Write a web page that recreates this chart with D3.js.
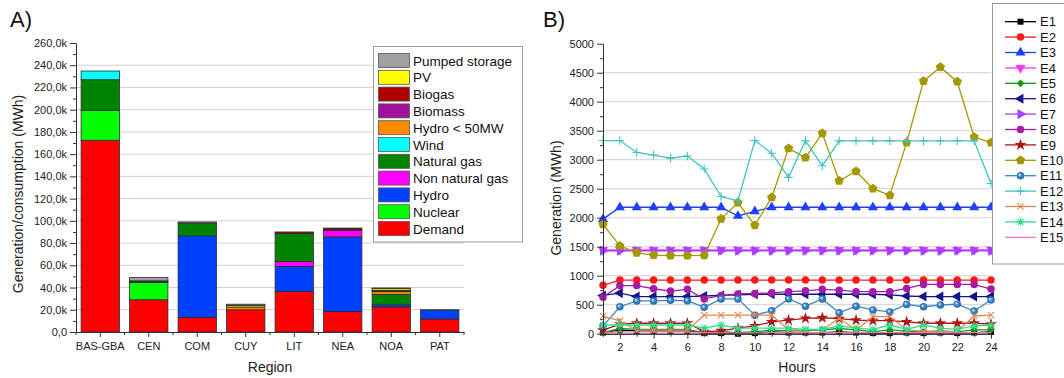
<!DOCTYPE html>
<html>
<head>
<meta charset="utf-8">
<script src="https://cdn.jsdelivr.net/npm/d3@7"></script>
<style>
  body { margin: 0; background: #fff; }
  svg { display: block; font-family: "Liberation Sans", Arial, sans-serif; }
</style>
</head>
<body>
<svg id="chart" width="1064" height="378"></svg>
<script>
// ---------- Panel A: regional generation / consumption (MWh) ----------
const regions = ["BAS-GBA", "CEN", "COM", "CUY", "LIT", "NEA", "NOA", "PAT"];
const sources = ["Demand", "Nuclear", "Hydro", "Non natural gas", "Natural gas", "Wind",
                 "Hydro < 50MW", "Biomass", "Biogas", "PV", "Pumped storage"];
const sourceColors = ["#ff0000", "#00ff00", "#0040ff", "#ff00ff", "#008400", "#00ffff",
                      "#ff8c00", "#a0109a", "#b00000", "#ffff00", "#a0a0a0"];

const demand        = [172500, 29000, 13000, 20000, 36500, 18500, 22500, 11700];
const nuclear       = [ 27000, 15500,     0,     0,     0,     0,     0,     0];
const hydro         = [     0,  1000, 73500,     0, 22500, 67000,  2000,  8000];
const nonNaturalGas = [     0,     0,     0,     0,  4500,  6000,     0,     0];
const naturalGas    = [ 27500,     0, 11500,     0, 25000,     0,  9300,     0];
const wind          = [  7800,     0,     0,     0,     0,     0,     0,   300];
const hydroSmall    = [     0,     0,     0,  2500,     0,     0,  2500,     0];
const biomass       = [     0,   500,     0,     0,     0,  1000,   800,     0];
const biogas        = [     0,     0,     0,     0,  1500,  1000,   500,     0];
const pv            = [     0,     0,     0,  1500,     0,     0,  1500,     0];
const pumpedStorage = [     0,  3000,  1000,  1000,     0,     0,   500,     0];
const sourceValues  = [demand, nuclear, hydro, nonNaturalGas, naturalGas, wind,
                       hydroSmall, biomass, biogas, pv, pumpedStorage];

const yTicksA = [0, 20000, 40000, 60000, 80000, 100000, 120000, 140000, 160000,
                 180000, 200000, 220000, 240000, 260000];

// ---------- Panel B: hourly generation per unit (MWh) ----------
const hours = [1, 2, 3, 4, 5, 6, 7, 8, 9, 10, 11, 12, 13, 14, 15, 16, 17, 18, 19, 20, 21, 22, 23, 24];
const e1  = [20, 60, 50, 50, 50, 50, 10, 10, 0, 10, 30, 20, 20, 20, 30, 20, 10, 10, 20, 10, 20, 10, 20, 30];
const e2  = [835, 925, 925, 925, 925, 925, 925, 925, 925, 925, 925, 925, 925, 925, 925, 925, 925, 925, 925, 925, 925, 925, 925, 925];
const e3  = [1975, 2180, 2180, 2180, 2180, 2180, 2180, 2180, 2030, 2110, 2180, 2180, 2180, 2180, 2180, 2180, 2180, 2180, 2180, 2180, 2180, 2180, 2180, 2180];
const e4  = [1445, 1445, 1445, 1445, 1445, 1445, 1445, 1445, 1445, 1445, 1445, 1445, 1445, 1445, 1445, 1445, 1445, 1445, 1445, 1445, 1445, 1445, 1445, 1445];
const e5  = [20, 90, 75, 75, 75, 75, 20, 35, 20, 35, 60, 50, 50, 65, 90, 65, 35, 65, 45, 35, 50, 30, 65, 65];
const e6  = [660, 700, 640, 640, 640, 640, 650, 660, 670, 680, 680, 680, 680, 680, 680, 680, 680, 670, 650, 640, 640, 640, 640, 640];
const e7  = [1430, 1430, 1430, 1430, 1430, 1430, 1430, 1430, 1430, 1430, 1430, 1430, 1430, 1430, 1430, 1430, 1430, 1430, 1430, 1430, 1430, 1430, 1430, 1430];
const e8  = [630, 830, 830, 775, 735, 765, 600, 660, 685, 695, 705, 725, 740, 765, 750, 725, 725, 725, 780, 850, 850, 850, 850, 770];
const e9  = [60, 165, 180, 180, 180, 180, 35, 50, 95, 135, 205, 235, 265, 275, 260, 235, 225, 225, 205, 180, 180, 180, 180, 165];
const e10 = [1885, 1515, 1395, 1355, 1345, 1345, 1350, 1980, 2260, 1870, 2350, 3195, 3035, 3455, 2635, 2800, 2500, 2385, 3295, 4355, 4595, 4345, 3390, 3295];
const e11 = [135, 465, 565, 565, 575, 570, 455, 600, 600, 320, 395, 600, 475, 600, 360, 475, 410, 375, 505, 465, 495, 510, 390, 580];
const e12 = [3330, 3330, 3125, 3080, 3025, 3065, 2840, 2365, 2290, 3330, 3110, 2695, 3325, 2895, 3325, 3325, 3325, 3325, 3325, 3325, 3325, 3325, 3325, 2590];
const e13 = [305, 220, 60, 60, 60, 60, 320, 320, 320, 320, 320, 65, 65, 65, 265, 65, 295, 295, 65, 40, 40, 40, 305, 320];
const e14 = [150, 150, 150, 150, 150, 150, 95, 150, 95, 95, 95, 95, 75, 75, 135, 95, 75, 150, 75, 150, 95, 75, 135, 150];
const e15 = [20, 30, 30, 30, 30, 30, 20, 10, 10, 10, 20, 20, 20, 20, 20, 20, 20, 20, 20, 20, 20, 20, 20, 20];
const seriesValues = [e1, e2, e3, e4, e5, e6, e7, e8, e9, e10, e11, e12, e13, e14, e15];
const seriesNames  = ["E1", "E2", "E3", "E4", "E5", "E6", "E7", "E8", "E9", "E10", "E11", "E12", "E13", "E14", "E15"];
const seriesColors = ["#000000", "#ff1a1a", "#1f3fff", "#ff33ff", "#109a10", "#14148c", "#a440ff",
                      "#a61aa6", "#b01414", "#a39800", "#3a86c6", "#3fc4c4", "#e2874e", "#2ee08e", "#ff6ec4"];
const seriesMarkers = ["square", "circle", "triUp", "triDown", "diamond", "triLeft", "triRight",
                       "circle", "star", "pentagon", "sphere", "plus", "cross", "asterisk", "none"];
const yTicksB = [0, 500, 1000, 1500, 2000, 2500, 3000, 3500, 4000, 4500, 5000];

// ---------- helpers ----------
const svg = d3.select("#chart");
const ink = "#333";
const textInk = "#222";

function styleAxis(g) {
  g.selectAll("path, line").attr("stroke", ink).attr("stroke-width", 1);
  g.selectAll("text").attr("fill", textInk).attr("font-size", "11px")
    .attr("font-family", '"Liberation Sans", Arial, sans-serif');
}

const fmtK = v => v === 0 ? "0,0" : (v / 1000).toFixed(1).replace(".", ",") + "k";

// ---------- Panel A ----------
const xA = d3.scaleBand().domain(regions).range([76, 464]).paddingInner(0.21).paddingOuter(0.105);
const yA = d3.scaleLinear().domain([0, 260000]).range([332, 43]);
const gA = svg.append("g");

// horizontal gridlines
gA.append("g").selectAll("line")
  .data(yTicksA.filter(v => v > 0 && v < 260000))
  .join("line")
  .attr("x1", 76).attr("x2", 464)
  .attr("y1", d => yA(d)).attr("y2", d => yA(d))
  .attr("stroke", "#d0d0d0").attr("stroke-width", 1);

// stacked bars
const rows = regions.map((r, i) => {
  const o = { region: r };
  sources.forEach((s, k) => { o[s] = sourceValues[k][i]; });
  return o;
});
const stacked = d3.stack().keys(sources)(rows);
gA.append("g").selectAll("g")
  .data(stacked)
  .join("g")
  .attr("fill", (d, k) => sourceColors[k])
  .selectAll("rect")
  .data(d => d.filter(p => p[1] - p[0] > 0))
  .join("rect")
  .attr("x", p => xA(p.data.region))
  .attr("width", xA.bandwidth())
  .attr("y", p => yA(p[1]))
  .attr("height", p => yA(p[0]) - yA(p[1]))
  .attr("stroke", "#2b2b2b").attr("stroke-width", 0.8);

// axes
gA.append("g").attr("transform", "translate(76,0)")
  .call(d3.axisLeft(yA).tickValues(yTicksA.map(v => v + 10000).filter(v => v < 260000))
    .tickFormat("").tickSize(3).tickSizeOuter(0))
  .call(styleAxis);
gA.append("g").attr("transform", "translate(76,0)")
  .call(d3.axisLeft(yA).tickValues(yTicksA).tickFormat(fmtK).tickSize(6).tickPadding(3).tickSizeOuter(0))
  .call(styleAxis);

const boundaries = regions.map(r => xA(r) + xA.bandwidth() / 2 - xA.step() / 2)
  .concat([xA(regions[regions.length - 1]) + xA.bandwidth() / 2 + xA.step() / 2]);
gA.append("g").selectAll("line").data(boundaries).join("line")
  .attr("x1", d => d).attr("x2", d => d).attr("y1", 332).attr("y2", 335)
  .attr("stroke", ink);
gA.append("g").attr("transform", "translate(0,332)")
  .call(d3.axisBottom(xA).tickSize(5).tickPadding(5).tickSizeOuter(0))
  .call(styleAxis);

// titles
svg.append("text").attr("x", 10).attr("y", 27).attr("font-size", "22px").attr("fill", "#111").text("A)");
svg.append("text").attr("transform", "translate(23,194) rotate(-90)").attr("text-anchor", "middle")
  .attr("font-size", "14px").attr("fill", textInk).text("Generation/consumption (MWh)");
svg.append("text").attr("x", 270).attr("y", 372).attr("text-anchor", "middle")
  .attr("font-size", "14px").attr("fill", textInk).text("Region");

// legend
const legA = svg.append("g");
legA.append("rect").attr("x", 373.5).attr("y", 46.5).attr("width", 149).attr("height", 195.5)
  .attr("fill", "#fff").attr("stroke", "#9a9a9a");
const legendOrder = sources.slice().reverse();
legendOrder.forEach((s, i) => {
  const y = 53.5 + i * 16.8;
  legA.append("rect").attr("x", 378.5).attr("y", y).attr("width", 31).attr("height", 14)
    .attr("fill", sourceColors[sources.indexOf(s)]).attr("stroke", "#555").attr("stroke-width", 0.8);
  legA.append("text").attr("x", 413).attr("y", y + 12).attr("font-size", "13.5px")
    .attr("fill", "#111").text(s);
});

// ---------- Panel B ----------
const xB = d3.scaleLinear().domain([1, 24]).range([603, 991]);
const yB = d3.scaleLinear().domain([0, 5000]).range([333.7, 43.7]);
const gB = svg.append("g");

gB.append("g").selectAll("line")
  .data(yTicksB.filter(v => v > 0 && v < 5000))
  .join("line")
  .attr("x1", 603).attr("x2", 991)
  .attr("y1", d => yB(d)).attr("y2", d => yB(d))
  .attr("stroke", "#d0d0d0").attr("stroke-width", 1);

// marker shapes
const defs = svg.append("defs");
const pentagon = {
  draw(ctx, size) {
    const r = Math.sqrt(size) * 0.66;
    for (let k = 0; k < 5; k++) {
      const a = -Math.PI / 2 + k * 2 * Math.PI / 5;
      if (k === 0) ctx.moveTo(r * Math.cos(a), r * Math.sin(a));
      else ctx.lineTo(r * Math.cos(a), r * Math.sin(a));
    }
    ctx.closePath();
  }
};
const plusT = { draw(ctx, size) { const r = Math.sqrt(size) * 0.6; ctx.moveTo(-r, 0); ctx.lineTo(r, 0); ctx.moveTo(0, -r); ctx.lineTo(0, r); } };
const crossT = { draw(ctx, size) { const r = Math.sqrt(size) * 0.45; ctx.moveTo(-r, -r); ctx.lineTo(r, r); ctx.moveTo(-r, r); ctx.lineTo(r, -r); } };
const asteriskT = { draw(ctx, size) {
  const r = Math.sqrt(size) * 0.55, q = r * 0.75;
  ctx.moveTo(-r, 0); ctx.lineTo(r, 0); ctx.moveTo(0, -r); ctx.lineTo(0, r);
  ctx.moveTo(-q, -q); ctx.lineTo(q, q); ctx.moveTo(-q, q); ctx.lineTo(q, -q);
} };

const markerSpec = {
  square:   { type: d3.symbolSquare, size: 36, rot: 0, fill: true },
  circle:   { type: d3.symbolCircle, size: 44, rot: 0, fill: true },
  sphere:   { type: d3.symbolCircle, size: 44, rot: 0, fill: true },
  triUp:    { type: d3.symbolTriangle, size: 44, rot: 0, fill: true },
  triDown:  { type: d3.symbolTriangle, size: 44, rot: 180, fill: true },
  triLeft:  { type: d3.symbolTriangle, size: 44, rot: -90, fill: true },
  triRight: { type: d3.symbolTriangle, size: 44, rot: 90, fill: true },
  diamond:  { type: d3.symbolSquare, size: 30, rot: 45, fill: true },
  star:     { type: d3.symbolStar, size: 44, rot: 0, fill: true },
  pentagon: { type: pentagon, size: 54, rot: 0, fill: true },
  plus:     { type: plusT, size: 50, rot: 0, fill: false },
  cross:    { type: crossT, size: 50, rot: 0, fill: false },
  asterisk: { type: asteriskT, size: 50, rot: 0, fill: false }
};

const sphereGrad = defs.append("radialGradient").attr("id", "sphereE11")
  .attr("cx", "50%").attr("cy", "50%").attr("r", "55%").attr("fx", "35%").attr("fy", "35%");
sphereGrad.append("stop").attr("offset", "0%").attr("stop-color", "#e8f4ff");
sphereGrad.append("stop").attr("offset", "45%").attr("stop-color", "#3a86c6");
sphereGrad.append("stop").attr("offset", "100%").attr("stop-color", "#2466a0");

function drawMarker(g, kind, color, x, y) {
  if (kind === "none") return;
  const m = markerSpec[kind];
  const p = g.append("path")
    .attr("d", d3.symbol().type(m.type).size(m.size)())
    .attr("transform", `translate(${x},${y}) rotate(${m.rot})`);
  if (m.fill) {
    p.attr("fill", kind === "sphere" ? "url(#sphereE11)" : color).attr("stroke", "none");
  } else {
    p.attr("fill", "none").attr("stroke", color).attr("stroke-width", 1.1);
  }
}

const line = d3.line().x((d, i) => xB(hours[i])).y(d => yB(d));
seriesValues.forEach((vals, s) => {
  const g = gB.append("g");
  g.append("path").attr("d", line(vals)).attr("fill", "none")
    .attr("stroke", seriesColors[s]).attr("stroke-width", 1.3);
  vals.forEach((v, i) => drawMarker(g, seriesMarkers[s], seriesColors[s], xB(hours[i]), yB(v)));
});

// axes
gB.append("g").attr("transform", "translate(603,0)")
  .call(d3.axisLeft(yB).tickValues(yTicksB.slice(0, -1).map(v => v + 250))
    .tickFormat("").tickSize(3).tickSizeOuter(0))
  .call(styleAxis);
gB.append("g").attr("transform", "translate(603,0)")
  .call(d3.axisLeft(yB).tickValues(yTicksB).tickFormat(d3.format("d")).tickSize(6).tickPadding(3).tickSizeOuter(0))
  .call(styleAxis);
gB.append("g").attr("transform", "translate(0,333.7)")
  .call(d3.axisBottom(xB).tickValues(hours.filter(h => h % 2 === 1)).tickFormat("").tickSize(3).tickSizeOuter(0))
  .call(styleAxis);
gB.append("g").attr("transform", "translate(0,333.7)")
  .call(d3.axisBottom(xB).tickValues(hours.filter(h => h % 2 === 0)).tickFormat(d3.format("d"))
    .tickSize(5).tickPadding(5).tickSizeOuter(0))
  .call(styleAxis);

svg.append("text").attr("x", 543).attr("y", 27).attr("font-size", "22px").attr("fill", "#111").text("B)");
svg.append("text").attr("transform", "translate(561,198) rotate(-90)").attr("text-anchor", "middle")
  .attr("font-size", "14px").attr("fill", textInk).text("Generation (MWh)");
svg.append("text").attr("x", 797).attr("y", 372).attr("text-anchor", "middle")
  .attr("font-size", "14px").attr("fill", textInk).text("Hours");

// legend
const legB = svg.append("g");
legB.append("rect").attr("x", 992.5).attr("y", 3.5).attr("width", 90).attr("height", 260.5)
  .attr("fill", "#fff").attr("stroke", "#9a9a9a");
seriesNames.forEach((n, s) => {
  const y = 21.7 + s * 15.4;
  legB.append("line").attr("x1", 1005).attr("x2", 1036).attr("y1", y).attr("y2", y)
    .attr("stroke", seriesColors[s]).attr("stroke-width", 1.3);
  drawMarker(legB, seriesMarkers[s], seriesColors[s], 1020.5, y);
  legB.append("text").attr("x", 1040).attr("y", y + 4.6).attr("font-size", "13px")
    .attr("fill", "#111").text(n);
});
</script>
</body>
</html>
